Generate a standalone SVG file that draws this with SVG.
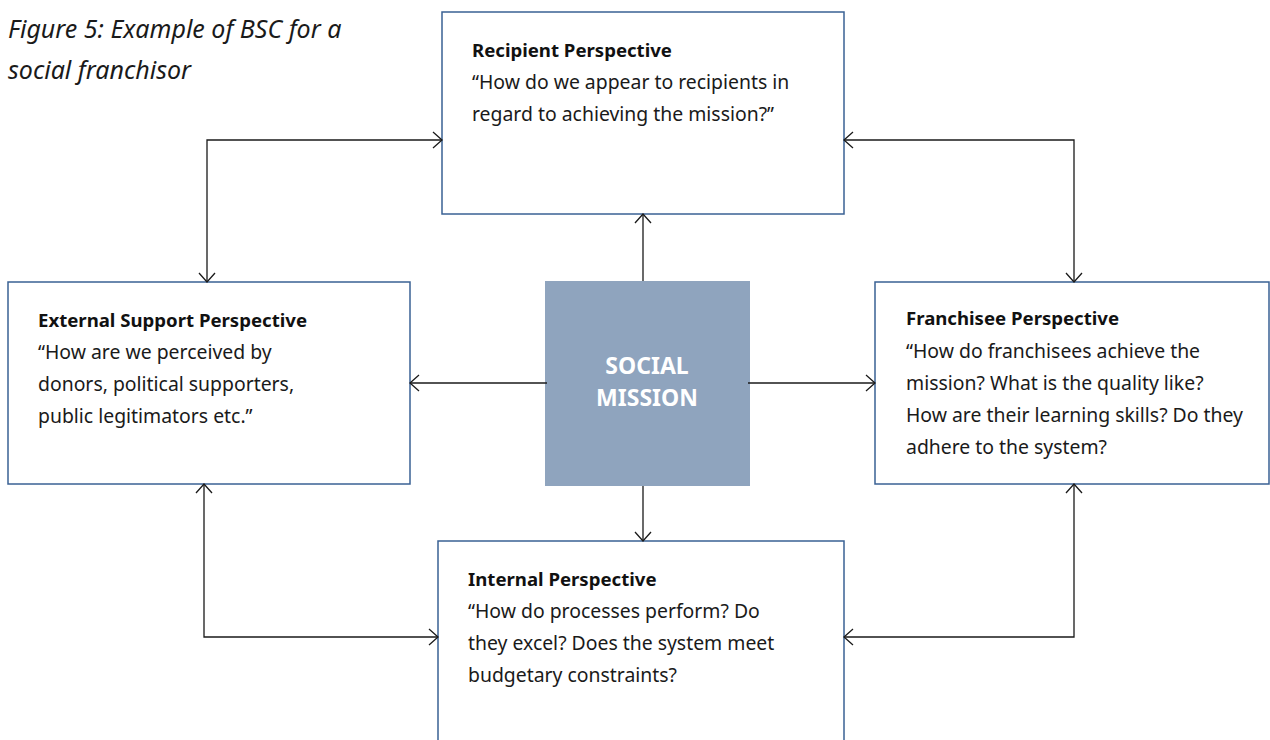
<svg xmlns="http://www.w3.org/2000/svg" width="1270" height="740" viewBox="0 0 1270 740">
<defs>
<style>
.box{fill:#ffffff;stroke:#3a6194;stroke-width:1.5}
.ttl{font-family:"Noto Sans","Open Sans",sans-serif;font-size:18.6px;font-weight:bold;fill:#111}
.txt{font-family:"Noto Sans","Open Sans",sans-serif;font-size:19.4px;fill:#1a1a1a}
.cap{font-family:"Noto Sans","Open Sans",sans-serif;font-size:25px;font-style:italic;fill:#1a1a1a}
.mis{font-family:"Noto Sans","Open Sans",sans-serif;font-size:23px;font-weight:bold;fill:#ffffff}
.con{fill:none;stroke:#1a1a1a;stroke-width:1.3}
</style>
<marker id="arr" viewBox="-10 -10 12 20" markerWidth="12" markerHeight="20" refX="0" refY="0" orient="auto-start-reverse" markerUnits="userSpaceOnUse">
<path d="M-9,-8 L0,0 L-9,8" fill="none" stroke="#1a1a1a" stroke-width="1.3"/>
</marker>
</defs>
<rect width="1270" height="740" fill="#ffffff"/>
<g id="caption">
<text class="cap" x="8" y="38">Figure 5: Example of BSC for a</text>
<text class="cap" x="8" y="79">social franchisor</text>
</g>
<g id="recipient">
<rect class="box" x="442" y="12" width="402" height="202"/>
<text class="ttl" x="472" y="57">Recipient Perspective</text>
<text class="txt" x="472" y="89">“How do we appear to recipients in</text>
<text class="txt" x="472" y="121">regard to achieving the mission?”</text>
</g>
<g id="external">
<rect class="box" x="8" y="282" width="402" height="202"/>
<text class="ttl" x="38" y="327">External Support Perspective</text>
<text class="txt" x="38" y="359">“How are we perceived by</text>
<text class="txt" x="38" y="391">donors, political supporters,</text>
<text class="txt" x="38" y="423">public legitimators etc.”</text>
</g>
<g id="franchisee">
<rect class="box" x="875" y="282" width="394" height="202"/>
<text class="ttl" x="906" y="325">Franchisee Perspective</text>
<text class="txt" x="906" y="358">“How do franchisees achieve the</text>
<text class="txt" x="906" y="390">mission? What is the quality like?</text>
<text class="txt" x="906" y="422">How are their learning skills? Do they</text>
<text class="txt" x="906" y="454">adhere to the system?</text>
</g>
<g id="internal">
<rect class="box" x="438" y="541" width="406" height="210"/>
<text class="ttl" x="468" y="586">Internal Perspective</text>
<text class="txt" x="468" y="618">“How do processes perform? Do</text>
<text class="txt" x="468" y="650">they excel? Does the system meet</text>
<text class="txt" x="468" y="682">budgetary constraints?</text>
</g>
<g id="mission">
<rect x="545" y="281" width="205" height="205" fill="#8fa4be"/>
<text class="mis" x="647" y="374" text-anchor="middle">SOCIAL</text>
<text class="mis" x="647" y="406" text-anchor="middle">MISSION</text>
</g>
<g id="connectors">
<path class="con" d="M207,282 V140 H442" marker-start="url(#arr)" marker-end="url(#arr)"/>
<path class="con" d="M844,140 H1074 V282" marker-start="url(#arr)" marker-end="url(#arr)"/>
<path class="con" d="M204,484 V637 H438" marker-start="url(#arr)" marker-end="url(#arr)"/>
<path class="con" d="M1074,484 V637 H844" marker-start="url(#arr)" marker-end="url(#arr)"/>
<path class="con" d="M643,281 V214" marker-end="url(#arr)"/>
<path class="con" d="M643,486 V541" marker-end="url(#arr)"/>
<path class="con" d="M547,383 H410" marker-end="url(#arr)"/>
<path class="con" d="M748,383 H875" marker-end="url(#arr)"/>
</g>
</svg>
